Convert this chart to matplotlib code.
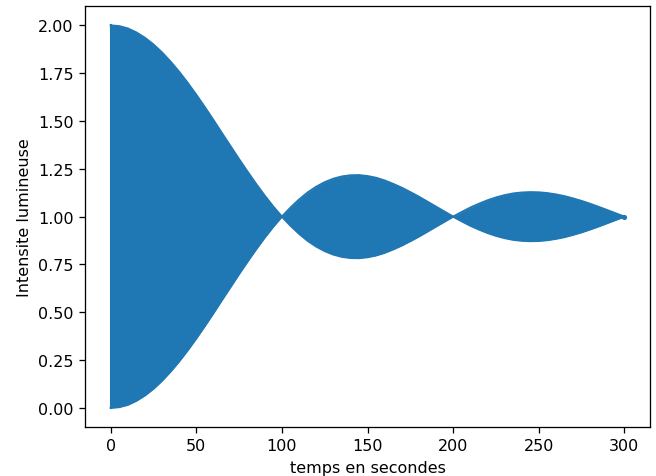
import matplotlib
matplotlib.use("Agg")
import matplotlib.pyplot as plt

# envelope of the oscillating intensity, every 5 s
t = [0, 5, 10, 15, 20, 25, 30, 35, 40, 45, 50, 55, 60, 65, 70, 75, 80, 85, 90, 95,
     100, 105, 110, 115, 120, 125, 130, 135, 140, 145, 150, 155, 160, 165, 170, 175,
     180, 185, 190, 195, 200, 205, 210, 215, 220, 225, 230, 235, 240, 245, 250, 255,
     260, 265, 270, 275, 280, 285, 290, 295, 300]
upper = [2.00, 1.996, 1.984, 1.963, 1.935, 1.900, 1.858, 1.810, 1.757, 1.699, 1.637,
         1.572, 1.505, 1.436, 1.368, 1.300, 1.234, 1.170, 1.109, 1.052,
         1.000, 1.047, 1.089, 1.126, 1.156, 1.180, 1.198, 1.210, 1.216, 1.217, 1.212,
         1.203, 1.189, 1.171, 1.151, 1.128, 1.104, 1.078, 1.052, 1.026,
         1.000, 1.024, 1.047, 1.067, 1.085, 1.100, 1.112, 1.121, 1.126, 1.128, 1.127,
         1.123, 1.116, 1.107, 1.095, 1.082, 1.067, 1.051, 1.034, 1.017, 1.000]
lower = [0.00, 0.004, 0.016, 0.037, 0.065, 0.100, 0.142, 0.190, 0.243, 0.301, 0.363,
         0.428, 0.495, 0.564, 0.632, 0.700, 0.766, 0.830, 0.891, 0.948,
         1.000, 0.953, 0.911, 0.874, 0.844, 0.820, 0.802, 0.790, 0.784, 0.783, 0.788,
         0.797, 0.811, 0.829, 0.849, 0.872, 0.896, 0.922, 0.948, 0.974,
         1.000, 0.976, 0.953, 0.933, 0.915, 0.900, 0.888, 0.879, 0.874, 0.872, 0.873,
         0.877, 0.884, 0.893, 0.905, 0.918, 0.933, 0.949, 0.966, 0.983, 1.000]

blue = "#1f77b4"
dpi = 115

fig, ax = plt.subplots(figsize=(656 / dpi, 477 / dpi), dpi=dpi)
fig.subplots_adjust(left=0.1296, right=0.9909, top=0.9847, bottom=0.1027)

ax.fill_between(t, lower, upper, color=blue, lw=0)
ax.plot(t, upper, color=blue, lw=1.3)
ax.plot(t, lower, color=blue, lw=1.3)
ax.plot([0, 0], [lower[0], upper[0]], color=blue, lw=1.3)
ax.plot([300], [1.0], "o", color=blue, ms=2.2)

ax.set_xlim(-15, 315)
ax.set_ylim(-0.1, 2.1)
ax.set_xticks([0, 50, 100, 150, 200, 250, 300])
ax.set_yticks([0.0, 0.25, 0.5, 0.75, 1.0, 1.25, 1.5, 1.75, 2.0])
ax.set_xlabel("temps en secondes")
ax.set_ylabel("Intensite lumineuse")

fig.savefig("out.png", dpi=dpi)
